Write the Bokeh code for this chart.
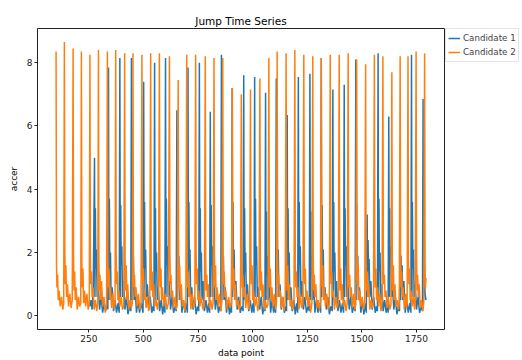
from bokeh.plotting import figure
from bokeh.models import Legend, LegendItem, FixedTicker, Range1d
from bokeh.layouts import row
from bokeh.embed import file_html
from bokeh.resources import INLINE

# Candidate 2 (orange): explicit read points, one line per jump
c2_x = [
    100, 102, 104, 107, 110, 114, 119, 125, 131, 135,
    138, 140, 142, 145, 148, 152, 157, 163, 169, 174,
    178, 180, 182, 185, 188, 192, 197, 203, 208, 213,
    216, 218, 220, 223, 226, 230, 235, 241, 247, 252,
    255, 257, 259, 262, 265, 269, 274, 280, 286, 291,
    294, 296, 298, 301, 304, 308, 313, 319, 325, 331,
    335, 337, 339, 342, 345, 349, 354, 360, 365, 370,
    373, 375, 377, 380, 383, 387, 392, 398, 404, 410,
    414, 416, 418, 421, 424, 428, 433, 439, 444, 449,
    452, 454, 456, 459, 462, 466, 471, 477, 483, 489,
    493, 495, 497, 500, 503, 507, 512, 518, 524, 529,
    533, 535, 537, 540, 543, 547, 552, 558, 564, 569,
    573, 575, 577, 580, 583, 587, 593, 600, 607, 614,
    619, 621, 623, 626, 629, 633, 638, 644, 650, 655,
    659, 661, 663, 666, 669, 673, 678, 684, 689, 694,
    698, 700, 702, 705, 708, 712, 717, 723, 729, 735,
    739, 741, 743, 746, 749, 753, 758, 765, 772, 779,
    783, 785, 787, 790, 793, 797, 802, 808, 814, 819,
    823, 825, 827, 830, 833, 837, 842, 848, 854, 859,
    863, 865, 867, 870, 873, 877, 883, 890, 897, 903,
    907, 909, 911, 914, 917, 921, 926, 932, 938, 944,
    948, 950, 952, 955, 958, 962, 968, 975, 981, 986,
    990, 992, 994, 997, 1000, 1004, 1010, 1017, 1023, 1029,
    1033, 1035, 1037, 1040, 1043, 1047, 1052, 1058, 1064, 1070,
    1074, 1076, 1078, 1081, 1084, 1088, 1093, 1099, 1104, 1109,
    1112, 1114, 1116, 1119, 1122, 1126, 1131, 1137, 1143, 1149,
    1153, 1155, 1157, 1160, 1163, 1167, 1172, 1178, 1184, 1189,
    1193, 1195, 1197, 1200, 1203, 1207, 1212, 1218, 1224, 1230,
    1234, 1236, 1238, 1241, 1244, 1248, 1253, 1259, 1265, 1271,
    1275, 1277, 1279, 1282, 1285, 1289, 1294, 1300, 1305, 1310,
    1314, 1316, 1318, 1321, 1324, 1328, 1333, 1339, 1345, 1351,
    1355, 1357, 1359, 1362, 1365, 1369, 1374, 1380, 1386, 1392,
    1396, 1398, 1400, 1403, 1406, 1410, 1415, 1421, 1427, 1433,
    1437, 1439, 1441, 1444, 1447, 1451, 1456, 1462, 1467, 1472,
    1476, 1478, 1480, 1483, 1486, 1490, 1495, 1501, 1507, 1513,
    1517, 1519, 1521, 1524, 1527, 1531, 1536, 1542, 1548, 1553,
    1557, 1559, 1561, 1564, 1567, 1571, 1576, 1582, 1587, 1592,
    1596, 1598, 1600, 1603, 1606, 1610, 1615, 1621, 1627, 1633,
    1637, 1639, 1641, 1644, 1647, 1651, 1656, 1662, 1667, 1671,
    1675, 1677, 1679, 1682, 1685, 1689, 1694, 1700, 1704, 1707,
    1711, 1713, 1715, 1718, 1721, 1725, 1730, 1736, 1741, 1744,
    1748, 1750, 1752, 1755, 1758, 1762, 1767, 1773, 1779, 1783,
    1787, 1789, 1791, 1793,
]
c2_y = [
    8.35, 1.6, 0.9, 1.3, 0.5, 0.8, 0.3, 0.6, 0.2, 0.4,
    8.65, 2.3, 1.0, 1.6, 0.6, 1.0, 0.3, 0.7, 0.25, 0.5,
    8.45, 1.9, 0.8, 1.4, 0.5, 0.9, 0.2, 0.6, 0.3, 0.4,
    8.35, 1.7, 0.9, 1.5, 0.4, 0.8, 0.3, 0.7, 0.2, 0.35,
    8.25, 2.0, 1.0, 1.4, 0.6, 0.9, 0.2, 0.5, 0.15, 0.4,
    8.4, 1.8, 0.8, 1.3, 0.5, 1.1, 0.3, 0.6, 0.1, 0.35,
    8.35, 1.9, 0.9, 1.5, 0.6, 0.9, 0.25, 0.7, 0.2, 0.4,
    8.4, 2.1, 1.0, 1.4, 0.5, 0.8, 0.3, 0.6, 0.2, 0.3,
    8.3, 1.8, 0.8, 1.6, 0.5, 1.0, 0.2, 0.5, 0.25, 0.4,
    8.3, 1.7, 0.9, 1.3, 0.6, 0.9, 0.3, 0.7, 0.2, 0.35,
    8.25, 2.0, 1.0, 1.5, 0.5, 0.8, 0.25, 0.6, 0.15, 0.4,
    8.3, 1.9, 0.8, 1.4, 0.6, 1.0, 0.3, 0.5, 0.2, 0.45,
    8.3, 1.8, 0.9, 1.5, 0.5, 0.9, 0.3, 0.7, 0.2, 0.4,
    8.2, 2.0, 1.0, 1.3, 0.6, 0.8, 0.25, 0.6, 0.2, 0.35,
    7.45, 1.7, 0.8, 1.6, 0.5, 1.0, 0.3, 0.5, 0.15, 0.4,
    8.25, 1.9, 0.9, 1.4, 0.6, 0.9, 0.2, 0.7, 0.25, 0.4,
    8.25, 2.1, 1.0, 1.5, 0.5, 0.8, 0.3, 0.6, 0.2, 0.35,
    8.2, 1.8, 0.8, 1.3, 0.6, 1.0, 0.25, 0.5, 0.2, 0.4,
    8.15, 2.0, 0.9, 1.6, 0.5, 0.9, 0.3, 0.7, 0.15, 0.45,
    8.15, 1.9, 1.0, 1.4, 0.6, 0.8, 0.2, 0.6, 0.25, 0.4,
    7.2, 1.7, 0.8, 1.5, 0.5, 1.0, 0.3, 0.5, 0.2, 0.35,
    7.0, 2.0, 0.9, 1.3, 0.6, 0.9, 0.25, 0.7, 0.2, 0.4,
    7.15, 1.8, 1.0, 1.6, 0.5, 0.8, 0.3, 0.6, 0.15, 0.4,
    7.5, 2.1, 0.8, 1.4, 0.6, 1.0, 0.2, 0.5, 0.25, 0.35,
    8.15, 1.9, 0.9, 1.5, 0.5, 0.9, 0.3, 0.7, 0.2, 0.4,
    8.35, 1.8, 1.0, 1.3, 0.6, 0.8, 0.25, 0.6, 0.15, 0.45,
    8.3, 2.0, 0.8, 1.6, 0.5, 1.0, 0.3, 0.5, 0.2, 0.4,
    8.4, 1.7, 0.9, 1.4, 0.6, 0.9, 0.2, 0.7, 0.25, 0.35,
    8.25, 1.9, 1.0, 1.5, 0.5, 0.8, 0.3, 0.6, 0.1, 0.4,
    8.2, 2.1, 0.8, 1.3, 0.6, 1.0, 0.25, 0.5, 0.2, 0.4,
    8.15, 1.8, 0.9, 1.6, 0.5, 0.9, 0.3, 0.7, 0.2, 0.35,
    8.25, 2.0, 1.0, 1.4, 0.6, 0.8, 0.2, 0.6, 0.25, 0.4,
    8.25, 1.9, 0.8, 1.5, 0.5, 1.0, 0.3, 0.5, 0.15, 0.4,
    8.3, 1.7, 0.9, 1.3, 0.6, 0.9, 0.25, 0.7, 0.2, 0.35,
    8.1, 2.0, 1.0, 1.6, 0.5, 0.8, 0.3, 0.6, 0.2, 0.4,
    7.95, 1.8, 0.8, 1.4, 0.6, 1.0, 0.2, 0.5, 0.25, 0.45,
    8.25, 2.1, 0.9, 1.5, 0.5, 0.9, 0.3, 0.7, 0.15, 0.4,
    8.2, 1.9, 1.0, 1.3, 0.6, 0.8, 0.25, 0.6, 0.2, 0.35,
    7.7, 1.7, 0.8, 1.6, 0.5, 1.0, 0.3, 0.5, 0.2, 0.4,
    8.2, 2.0, 0.9, 1.4, 0.6, 0.9, 0.2, 0.7, 0.25, 0.4,
    8.2, 1.8, 1.0, 1.5, 0.5, 0.8, 0.3, 0.6, 0.2, 0.35,
    8.35, 1.9, 0.8, 1.3, 0.6, 1.0, 0.25, 0.5, 0.15, 0.4,
    8.3, 1.6, 0.9, 1.2,
]

# Candidate 1 (blue): explicit read points, one line per jump
c1_x = [
    255, 260, 265, 270,
    276, 278, 280, 282, 285, 288, 293, 299, 306, 313, 320, 327, 334, 337,
    340, 342, 344, 346, 349, 352, 357, 363, 370, 377, 384, 389,
    392, 394, 396, 398, 401, 404, 409, 415, 422, 429, 436, 442,
    445, 447, 449, 451, 454, 457, 462, 468, 475, 482, 490, 498,
    501, 503, 505, 507, 510, 513, 518, 524, 531, 538, 544, 548,
    551, 553, 555, 557, 560, 563, 568, 574, 581, 588, 594, 598,
    601, 603, 605, 607, 610, 613, 618, 624, 631, 638, 645, 650,
    653, 655, 657, 659, 662, 665, 670, 676, 683, 690, 696, 701,
    704, 706, 708, 710, 713, 716, 721, 727, 734, 741, 748, 753,
    756, 758, 760, 762, 765, 768, 773, 779, 786, 793, 799, 803,
    806, 808, 810, 812, 815, 818, 823, 829, 836, 843, 849, 854,
    857, 859, 861, 863, 866, 869, 874, 880, 887, 894, 900, 903,
    906, 908, 910, 912, 915, 918, 923, 929, 936, 943, 950, 956,
    959, 961, 963, 965, 968, 971, 976, 982, 989, 996, 1002, 1006,
    1009, 1011, 1013, 1015, 1018, 1021, 1026, 1032, 1039, 1046, 1052, 1056,
    1059, 1061, 1063, 1065, 1068, 1071, 1076, 1082, 1089, 1096, 1102, 1105,
    1108, 1110, 1112, 1114, 1117, 1120, 1125, 1131, 1138, 1145, 1151, 1155,
    1158, 1160, 1162, 1164, 1167, 1170, 1175, 1181, 1188, 1195, 1201, 1206,
    1209, 1211, 1213, 1215, 1218, 1221, 1226, 1232, 1239, 1246, 1253, 1259,
    1262, 1264, 1266, 1268, 1271, 1274, 1279, 1285, 1292, 1299, 1306, 1311,
    1314, 1316, 1318, 1320, 1323, 1326, 1331, 1337, 1344, 1351, 1358, 1364,
    1367, 1369, 1371, 1373, 1376, 1379, 1384, 1390, 1397, 1404, 1411, 1416,
    1419, 1421, 1423, 1425, 1428, 1431, 1436, 1442, 1449, 1456, 1463, 1469,
    1472, 1474, 1476, 1478, 1481, 1484, 1489, 1495, 1502, 1509, 1515, 1520,
    1524, 1526, 1528, 1530, 1533, 1536, 1541, 1547, 1554, 1561, 1567, 1571,
    1574, 1576, 1578, 1580, 1583, 1586, 1591, 1597, 1604, 1611, 1617, 1620,
    1623, 1625, 1627, 1629, 1632, 1635, 1640, 1646, 1653, 1660, 1667, 1672,
    1675, 1677, 1679, 1681, 1684, 1687, 1692, 1698, 1705, 1712, 1719, 1724,
    1727, 1729, 1731, 1733, 1736, 1739, 1744, 1750, 1757, 1764, 1771, 1777,
    1780, 1782, 1784, 1786, 1789, 1793,
]
c1_y = [
    0.3, 0.5, 0.2, 0.8,
    5.0, 0.6, 3.4, 1.5, 2.1, 0.6, 1.0, 0.2, 0.6, 0.1, 0.4, 0.15, 0.5, 0.2,
    7.85, 0.5, 3.7, 1.4, 2.0, 0.5, 0.9, 0.15, 0.5, 0.1, 0.4, 0.1,
    8.15, 0.6, 3.5, 1.6, 2.2, 0.6, 1.1, 0.2, 0.6, 0.05, 0.3, 0.15,
    8.15, 0.5, 3.3, 1.3, 1.9, 0.5, 0.9, 0.1, 0.5, 0.1, 0.4, 0.1,
    7.4, 0.6, 3.6, 1.5, 2.1, 0.6, 1.0, 0.2, 0.6, 0.1, 0.3, 0.15,
    8.0, 0.5, 3.4, 1.4, 2.0, 0.5, 0.9, 0.15, 0.5, 0.05, 0.4, 0.1,
    8.15, 0.6, 3.7, 1.6, 2.2, 0.6, 1.1, 0.2, 0.6, 0.1, 0.3, 0.15,
    6.5, 0.5, 3.3, 1.3, 1.9, 0.5, 1.0, 0.1, 0.5, 0.1, 0.4, 0.1,
    7.85, 0.6, 3.6, 1.5, 2.1, 0.6, 0.9, 0.2, 0.6, 0.05, 0.3, 0.15,
    8.0, 0.5, 3.4, 1.4, 2.0, 0.5, 1.1, 0.15, 0.5, 0.1, 0.4, 0.1,
    6.45, 0.6, 3.5, 1.6, 2.2, 0.6, 1.0, 0.2, 0.6, 0.1, 0.3, 0.15,
    8.25, 0.5, 3.3, 1.3, 1.9, 0.5, 0.9, 0.1, 0.5, 0.05, 0.4, 0.1,
    7.2, 0.6, 3.6, 1.5, 2.1, 0.6, 1.1, 0.2, 0.6, 0.1, 0.3, 0.15,
    7.6, 0.5, 3.4, 1.4, 2.0, 0.5, 1.0, 0.15, 0.5, 0.1, 0.4, 0.1,
    7.55, 0.6, 3.7, 1.6, 2.2, 0.6, 0.9, 0.2, 0.6, 0.05, 0.3, 0.15,
    7.05, 0.5, 3.3, 1.3, 1.9, 0.5, 1.1, 0.1, 0.5, 0.1, 0.4, 0.1,
    7.5, 0.6, 3.5, 1.5, 2.1, 0.6, 1.0, 0.2, 0.6, 0.1, 0.3, 0.15,
    6.35, 0.5, 3.4, 1.4, 2.0, 0.5, 0.9, 0.15, 0.5, 0.05, 0.4, 0.1,
    7.55, 0.6, 3.6, 1.6, 2.2, 0.6, 1.1, 0.2, 0.6, 0.1, 0.3, 0.15,
    7.65, 0.5, 3.3, 1.3, 1.9, 0.5, 1.0, 0.1, 0.5, 0.1, 0.4, 0.1,
    8.15, 0.6, 3.5, 1.5, 2.1, 0.6, 0.9, 0.2, 0.6, 0.05, 0.3, 0.15,
    7.15, 0.5, 3.6, 1.4, 2.0, 0.5, 1.1, 0.15, 0.5, 0.1, 0.4, 0.1,
    7.3, 0.6, 3.4, 1.6, 2.2, 0.6, 1.0, 0.2, 0.6, 0.1, 0.3, 0.15,
    8.1, 0.5, 3.5, 1.3, 1.9, 0.5, 0.9, 0.1, 0.5, 0.05, 0.4, 0.1,
    3.2, 0.6, 2.4, 1.5, 1.8, 0.6, 1.1, 0.2, 0.6, 0.1, 0.3, 0.15,
    8.3, 0.5, 3.7, 1.4, 2.0, 0.5, 1.0, 0.15, 0.5, 0.1, 0.4, 0.1,
    6.3, 0.6, 3.4, 1.6, 2.2, 0.6, 0.9, 0.2, 0.6, 0.05, 0.3, 0.15,
    2.4, 0.5, 1.9, 1.3, 1.6, 0.5, 1.1, 0.1, 0.5, 0.1, 0.4, 0.1,
    8.25, 0.6, 3.6, 1.5, 2.1, 0.6, 1.0, 0.2, 0.6, 0.1, 0.3, 0.15,
    6.85, 0.5, 3.3, 1.4, 0.7, 0.5,
]

x_ticks = [250, 500, 750, 1000, 1250, 1500, 1750]
y_ticks = [0, 2, 4, 6, 8]
series_names = ["Candidate 1", "Candidate 2"]
colors = ["#1f77b4", "#ff7f0e"]

FONT = "DejaVu Sans"
H = 360
MAIN_W, LEG_W = 445, 77

p = figure(width=MAIN_W, height=H, output_backend="svg", toolbar_location=None,
           x_range=Range1d(15, 1878), y_range=Range1d(-0.43, 9.08),
           min_border_left=37, min_border_right=1, min_border_top=24, min_border_bottom=31)

p.line(c1_x, c1_y, line_color=colors[0], line_width=1.5)
p.line(c2_x, c2_y, line_color=colors[1], line_width=1.5)

p.title.text = "Jump Time Series"
p.title.align = "center"
p.title.vertical_align = "middle"
p.title.text_font = FONT
p.title.text_font_size = "10.5px"
p.title.text_font_style = "normal"
p.title.text_color = "#000000"
p.title.standoff = 1

p.grid.visible = False
p.outline_line_color = "#222222"
p.outline_line_width = 1
p.outline_line_alpha = 1

for ax in (p.xaxis[0], p.yaxis[0]):
    ax.axis_line_color = None
    ax.major_tick_in = 0
    ax.major_tick_out = 3
    ax.major_tick_line_color = "#222222"
    ax.minor_tick_line_color = None
    ax.major_label_text_font = FONT
    ax.major_label_text_font_size = "9px"
    ax.major_label_text_color = "#222222"
    ax.major_label_standoff = 2
    ax.axis_label_text_font = FONT
    ax.axis_label_text_font_size = "9px"
    ax.axis_label_text_font_style = "normal"
    ax.axis_label_text_color = "#000000"
    ax.axis_label_standoff = 3

p.xaxis[0].ticker = FixedTicker(ticks=x_ticks)
p.yaxis[0].ticker = FixedTicker(ticks=y_ticks)
p.xaxis[0].axis_label = "data point"
p.yaxis[0].axis_label = "accer"
p.yaxis[0].axis_label_standoff = 5

# legend panel: a bare figure beside the chart that holds only the legend;
# its key lines lie outside its own (hidden) ranges so only the legend shows
lg = figure(width=LEG_W, height=H, output_backend="svg", toolbar_location=None,
            x_range=Range1d(0, 1), y_range=Range1d(0, 1),
            min_border_left=0, min_border_right=0, min_border_top=28, min_border_bottom=0)
lg.axis.visible = False
lg.grid.visible = False
lg.outline_line_color = None
k1 = lg.line([5, 6], [5, 6], line_color=colors[0], line_width=1.5)
k2 = lg.line([5, 6], [5, 6], line_color=colors[1], line_width=1.5)

legend = Legend(items=[LegendItem(label=series_names[0], renderers=[k1]),
                       LegendItem(label=series_names[1], renderers=[k2])],
                location="top_left", orientation="vertical")
legend.label_text_font = FONT
legend.label_text_font_size = "8.7px"
legend.label_height = 14
legend.glyph_height = 14
legend.glyph_width = 12
legend.label_standoff = 3
legend.spacing = 0
legend.padding = 2
legend.margin = 0
legend.border_line_color = "#cccccc"
legend.border_line_width = 1
legend.background_fill_alpha = 0.85
lg.add_layout(legend, "center")

layout = row(p, lg, spacing=0)
open("out.html", "w").write(file_html(layout, INLINE))
